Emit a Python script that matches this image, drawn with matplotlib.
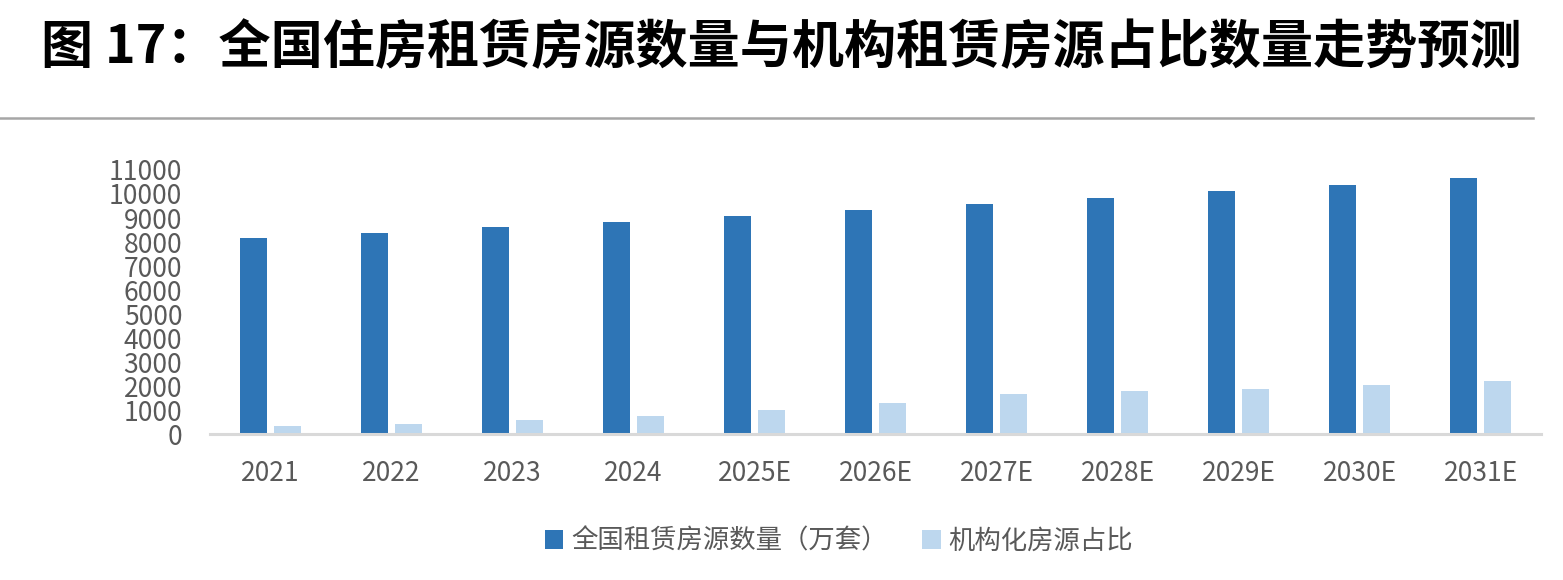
import numpy as np
import matplotlib
matplotlib.use("Agg")
import matplotlib.pyplot as plt
from matplotlib.lines import Line2D

plt.rcParams['font.family'] = ['Noto Sans CJK SC', 'DejaVu Sans']

# data
years = ['2021', '2022', '2023', '2024', '2025E', '2026E', '2027E',
         '2028E', '2029E', '2030E', '2031E']
total_rent = [8170, 8390, 8610, 8840, 9090, 9340, 9590, 9850, 10120, 10385, 10660]
inst_share = [330, 430, 565, 730, 985, 1275, 1650, 1780, 1890, 2040, 2200]
yticks = list(range(0, 11001, 1000))

title = '图 17：全国住房租赁房源数量与机构租赁房源占比数量走势预测'
series_names = ['全国租赁房源数量（万套）', '机构化房源占比']

dark = '#2E75B6'
light = '#BDD7EE'
grey_txt = '#595959'

fig = plt.figure(figsize=(15.63, 5.8), dpi=100)
ax = fig.add_axes([0.1344, 0.2517, 0.8516, 0.4552])

x = np.arange(len(years))
w = 0.223
b1 = ax.bar(x - 0.14, total_rent, width=w, color=dark, label=series_names[0])
b2 = ax.bar(x + 0.14, inst_share, width=w, color=light, label=series_names[1])

ax.set_xlim(-0.5, len(years) - 0.5)
ax.set_ylim(0, 11000)
ax.set_yticks(yticks)
ax.set_xticks(x)
ax.set_xticklabels(years)

for s in ['top', 'right', 'left']:
    ax.spines[s].set_visible(False)
ax.spines['bottom'].set_color('#D9D9D9')
ax.spines['bottom'].set_linewidth(2.2)

ax.tick_params(axis='y', length=0, pad=20, labelsize=19, labelcolor=grey_txt)
ax.tick_params(axis='x', length=0, pad=19, labelsize=19, labelcolor=grey_txt)

# title and separator line
fig.text(0.5, 1 - 48 / 580, title, ha='center', va='center',
         fontsize=37.5, fontweight='bold', color='black')
fig.add_artist(Line2D([0, 1533 / 1563], [1 - 118 / 580, 1 - 118 / 580],
                      color='#A6A6A6', lw=1.8, transform=fig.transFigure))

fig.legend(handles=[b1, b2], loc='center', bbox_to_anchor=(839 / 1563, 1 - 541 / 580),
           ncol=2, frameon=False, fontsize=19, handlelength=0.7, handleheight=0.7,
           handletextpad=0.3, columnspacing=1.3, labelcolor=grey_txt)

fig.savefig('out.png', dpi=100)
